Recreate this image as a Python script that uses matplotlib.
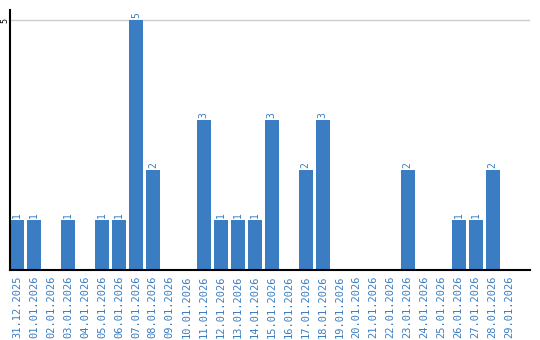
import matplotlib
matplotlib.use("Agg")
import matplotlib.pyplot as plt

days = ["31.12.2025", "01.01.2026", "02.01.2026", "03.01.2026", "04.01.2026",
        "05.01.2026", "06.01.2026", "07.01.2026", "08.01.2026", "09.01.2026",
        "10.01.2026", "11.01.2026", "12.01.2026", "13.01.2026", "14.01.2026",
        "15.01.2026", "16.01.2026", "17.01.2026", "18.01.2026", "19.01.2026",
        "20.01.2026", "21.01.2026", "22.01.2026", "23.01.2026", "24.01.2026",
        "25.01.2026", "26.01.2026", "27.01.2026", "28.01.2026", "29.01.2026"]
counts = [1, 1, 0, 1, 0, 1, 1, 5, 2, 0,
          0, 3, 1, 1, 1, 3, 0, 2, 3, 0,
          0, 0, 0, 2, 0, 0, 1, 1, 2, 0]

blue = "#3a7dc2"

fig = plt.figure(figsize=(5.4, 3.4), dpi=100)
ax = fig.add_axes([10 / 540, 70 / 340, 520 / 540, 260 / 340])

x = list(range(len(days)))
ax.bar(x, counts, width=0.82, color=blue, zorder=2)

for i, v in zip(x, counts):
    if v > 0:
        ax.text(i, v + 0.04, str(v), rotation=90, ha="center", va="bottom",
                color=blue, fontsize=7, family="DejaVu Sans Mono")

ax.set_xlim(-0.41, 30.2)
ax.set_ylim(0, 5.2)
ax.set_yticks([5])
ax.set_yticklabels(["5"], rotation=90, va="center", fontsize=6,
                   family="DejaVu Sans Mono")
ax.yaxis.grid(True, color="#cccccc", linewidth=1, zorder=0)
ax.tick_params(axis="y", length=0, pad=0.5)

ax.set_xticks(x)
ax.set_xticklabels(days, rotation=90, fontsize=7.5, color=blue,
                   family="DejaVu Sans Mono")
ax.tick_params(axis="x", length=0, pad=4)

for side in ("top", "right"):
    ax.spines[side].set_visible(False)
ax.spines["left"].set_linewidth(1.5)
ax.spines["bottom"].set_linewidth(1.5)

fig.savefig("out.png", dpi=100)
